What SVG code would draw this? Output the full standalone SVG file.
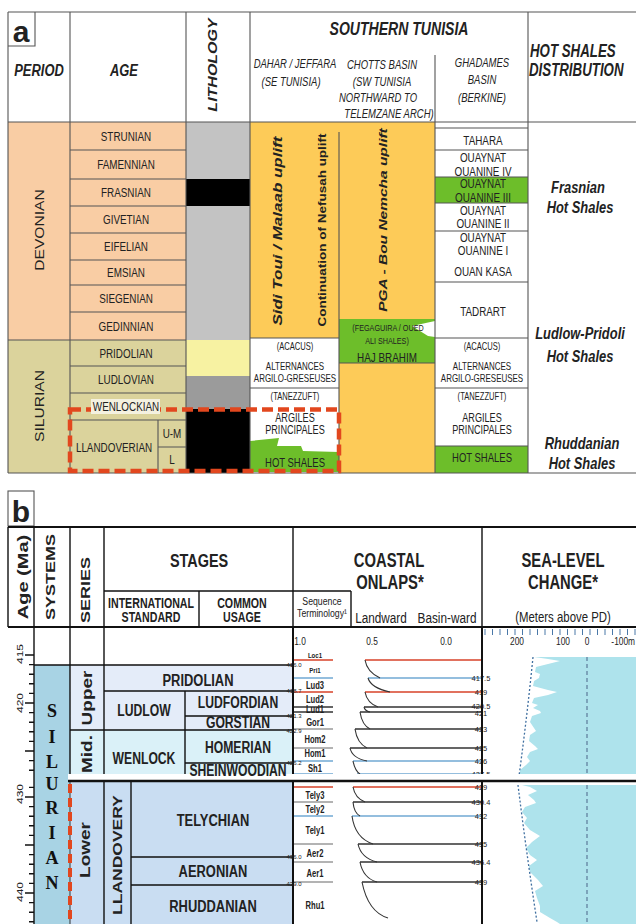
<svg xmlns="http://www.w3.org/2000/svg" width="636" height="924" viewBox="0 0 636 924">
<style>
text{font-family:"Liberation Sans",Arial,sans-serif;fill:#222;text-anchor:middle}
.b{font-weight:bold}
.i{font-style:italic}
.bi{font-weight:bold;font-style:italic}
.st{text-anchor:start}
.g{stroke:#555;stroke-width:1.1;fill:none}
.k{stroke:#111;stroke-width:1.4;fill:none}
.kk{stroke:#111;stroke-width:2;fill:none}
.dash{stroke:#E2471E;stroke-width:4.5;fill:none;stroke-dasharray:11 5}
.ser{font-family:"Liberation Serif","Times New Roman",serif;font-weight:bold;font-size:18px;fill:#111}
.red{stroke:#D8432A;stroke-width:1.6;fill:none}
.blu{stroke:#72A9D4;stroke-width:1.6;fill:none}
.drk{stroke:#333;stroke-width:1.3;fill:none}
.gry{stroke:#9a9a9a;stroke-width:1.3;fill:none}
.cv{stroke:#333;stroke-width:1.1;fill:none}
.num{font-size:7.5px;fill:#555;text-anchor:end}
.sm{font-size:6px;fill:#777;text-anchor:end}
.sc{font-size:11px;fill:#4A78A8}
.seq{font-weight:bold;fill:#333}
</style>

<g id="part-a">
 <g id="a-fills">
  <rect x="8" y="122" width="178" height="218" fill="#F9CDA4"/>
  <rect x="8" y="340" width="178" height="133" fill="#DBD39C"/>
  <rect x="186" y="122" width="64" height="57" fill="#C3C3C3"/>
  <rect x="186" y="179" width="64" height="27" fill="#000"/>
  <rect x="186" y="206" width="64" height="134" fill="#C3C3C3"/>
  <rect x="186" y="340" width="64" height="36" fill="#F7F2A2"/>
  <rect x="186" y="376" width="64" height="33" fill="#9B9B9B"/>
  <rect x="186" y="409" width="64" height="64" fill="#000"/>
  <rect x="250" y="122" width="185" height="216" fill="#FDCB58"/>
  <rect x="339" y="363" width="96" height="110" fill="#FDCB58"/>
  <rect x="339" y="319" width="96" height="44" fill="#6DBE2A"/>
  <polygon points="412,326 435,321 435,337 428,336" fill="#fff"/>
  <polygon points="250,441 279,438 277,446 301,446 303,451 339,452 339,472 250,472" fill="#6DBE2A"/>
  <rect x="435" y="177" width="93" height="26" fill="#6DBE2A"/>
  <rect x="435" y="446" width="93" height="27" fill="#6DBE2A"/>
 </g>
 <path id="a-grid" class="g" d="M8 12H636M8 12V473M8 473H636M8 122H636M8 46H35V12
  M70 12V473M186 12V473M250 12V473M528 12V473M435 55V473M339 132V473
  M70 150H186M70 179H186M70 206H186M70 233H186M70 260H186M70 285H186M70 312H186M8 340H186M70 366H186M70 393H186M70 420H186M158 420V473M158 447H186
  M435 128H528M435 150H528M435 177H528M435 203H528M435 231H528M435 282H528M435 338H528M435 388H528M435 446H528
  M250 338H339M250 388H339M339 363H435"/>
 <rect id="highlight-box" class="dash" x="70" y="409.5" width="269" height="61.5"/>
 <rect x="91" y="399" width="69" height="15" fill="#F4F1E0"/>

 <g id="a-header">
  <text class="b" font-size="30" x="21" y="42">a</text>
  <text class="bi" font-size="17" transform="translate(39 76) scale(.76 1)">PERIOD</text>
  <text class="bi" font-size="17" transform="translate(124 76) scale(.76 1)">AGE</text>
  <text class="bi" font-size="16" transform="translate(217.4 65) scale(.76 1) rotate(-90)">LITHOLOGY</text>
  <text class="bi" font-size="18.5" transform="translate(399 35) scale(.76 1)">SOUTHERN TUNISIA</text>
  <g class="i" font-size="12.5">
   <text transform="translate(295 68) scale(.76 1)">DAHAR / JEFFARA</text>
   <text transform="translate(291 86) scale(.76 1)">(SE TUNISIA)</text>
   <text transform="translate(382 69) scale(.76 1)">CHOTTS BASIN</text>
   <text transform="translate(382 86) scale(.76 1)">(SW TUNISIA</text>
   <text transform="translate(378 102) scale(.76 1)">NORTHWARD TO</text>
   <text transform="translate(389 118) scale(.76 1)">TELEMZANE ARCH)</text>
   <text transform="translate(482 67) scale(.76 1)">GHADAMES</text>
   <text transform="translate(482 84) scale(.76 1)">BASIN</text>
   <text transform="translate(482 102) scale(.76 1)">(BERKINE)</text>
  </g>
  <text class="bi st" font-size="17.5" transform="translate(530 57) scale(.76 1)">HOT SHALES</text>
  <text class="bi st" font-size="17.5" transform="translate(529 76) scale(.76 1)">DISTRIBUTION</text>
 </g>

 <g id="a-periods" font-size="15.6">
  <text transform="translate(44.3 230) scale(.76 1) rotate(-90)">DEVONIAN</text>
  <text transform="translate(44.3 406) scale(.76 1) rotate(-90)">SILURIAN</text>
 </g>
 <g id="a-ages" font-size="13">
  <text transform="translate(126 141) scale(.76 1)">STRUNIAN</text>
  <text transform="translate(126 169) scale(.76 1)">FAMENNIAN</text>
  <text transform="translate(126 197) scale(.76 1)">FRASNIAN</text>
  <text transform="translate(126 224) scale(.76 1)">GIVETIAN</text>
  <text transform="translate(126 251) scale(.76 1)">EIFELIAN</text>
  <text transform="translate(126 277) scale(.76 1)">EMSIAN</text>
  <text transform="translate(126 303) scale(.76 1)">SIEGENIAN</text>
  <text transform="translate(126 331) scale(.76 1)">GEDINNIAN</text>
  <text transform="translate(126 358) scale(.76 1)">PRIDOLIAN</text>
  <text transform="translate(126 384) scale(.76 1)">LUDLOVIAN</text>
  <text transform="translate(126 411.3) scale(.76 1)">WENLOCKIAN</text>
  <text transform="translate(114 452) scale(.76 1)">LLANDOVERIAN</text>
  <text transform="translate(172 438) scale(.76 1)">U-M</text>
  <text transform="translate(172 464) scale(.76 1)">L</text>
 </g>

 <g id="a-uplifts">
  <text class="bi" font-size="17" transform="translate(281.6 231) scale(.76 1) rotate(-90)">Sidi Toui / Malaab uplift</text>
  <text class="b" font-size="13.5" transform="translate(325.7 230) scale(.76 1) rotate(-90)">Continuation of Nefusah uplift</text>
  <text class="bi" font-size="15.5" transform="translate(387.2 220) scale(.76 1) rotate(-90)">PGA - Bou Nemcha uplift</text>
 </g>

 <g id="a-ghadames" font-size="13">
  <text transform="translate(483 144.7) scale(.76 1)">TAHARA</text>
  <text transform="translate(483 161.5) scale(.76 1)">OUAYNAT</text>
  <text transform="translate(483 175.5) scale(.76 1)">OUANINE IV</text>
  <text transform="translate(483 187.5) scale(.76 1)">OUAYNAT</text>
  <text transform="translate(483 201.5) scale(.76 1)">OUANINE III</text>
  <text transform="translate(483 214.5) scale(.76 1)">OUAYNAT</text>
  <text transform="translate(483 227.5) scale(.76 1)">OUANINE II</text>
  <text transform="translate(483 241.5) scale(.76 1)">OUAYNAT</text>
  <text transform="translate(483 254.5) scale(.76 1)">OUANINE I</text>
  <text transform="translate(483 275.5) scale(.76 1)">OUAN KASA</text>
  <text transform="translate(483 315.5) scale(.76 1)">TADRART</text>
 </g>

 <g id="a-lower-units">
  <text font-size="10" transform="translate(295 349.6) scale(.76 1)">(ACACUS)</text>
  <text font-size="10.5" transform="translate(295 369.8) scale(.76 1)">ALTERNANCES</text>
  <text font-size="10.5" transform="translate(295 381.8) scale(.76 1)">ARGILO-GRESEUSES</text>
  <text font-size="10" transform="translate(295 399.6) scale(.76 1)">(TANEZZUFT)</text>
  <text font-size="12" transform="translate(295 422.3) scale(.76 1)">ARGILES</text>
  <text font-size="12" transform="translate(295 434.3) scale(.76 1)">PRINCIPALES</text>
  <text font-size="12.5" transform="translate(295 466.5) scale(.76 1)">HOT SHALES</text>
  <text font-size="10" transform="translate(482 349.6) scale(.76 1)">(ACACUS)</text>
  <text font-size="10.5" transform="translate(482 369.8) scale(.76 1)">ALTERNANCES</text>
  <text font-size="10.5" transform="translate(482 381.8) scale(.76 1)">ARGILO-GRESEUSES</text>
  <text font-size="10" transform="translate(482 399.6) scale(.76 1)">(TANEZZUFT)</text>
  <text font-size="12" transform="translate(482 422.3) scale(.76 1)">ARGILES</text>
  <text font-size="12" transform="translate(482 434.3) scale(.76 1)">PRINCIPALES</text>
  <text font-size="12.5" transform="translate(482 461.5) scale(.76 1)">HOT SHALES</text>
  <text font-size="9.5" transform="translate(388 331.4) scale(.76 1)">(FEGAGUIRA / OUED</text>
  <text font-size="9.5" transform="translate(387 344.4) scale(.76 1)">ALI SHALES)</text>
  <text font-size="13" transform="translate(387 361.7) scale(.76 1)">HAJ BRAHIM</text>
 </g>

 <g id="a-hotshales" class="bi" font-size="17">
  <text class="bi" transform="translate(578 193) scale(.76 1)">Frasnian</text>
  <text class="bi" transform="translate(580 213) scale(.76 1)">Hot Shales</text>
  <text class="bi" transform="translate(580 339) scale(.76 1)">Ludlow-Pridoli</text>
  <text class="bi" transform="translate(580 362) scale(.76 1)">Hot Shales</text>
  <text class="bi" transform="translate(582 449) scale(.76 1)">Rhuddanian</text>
  <text class="bi" transform="translate(582 469) scale(.76 1)">Hot Shales</text>
 </g>
</g>

<g id="part-b">
 <g id="b-fills">
  <rect x="34" y="665" width="36" height="259" fill="#A8D3E4"/>
  <rect x="70" y="665" width="223" height="65" fill="#E4ECF9"/>
  <rect x="70" y="730" width="223" height="48" fill="#DAF1F8"/>
  <rect x="70" y="782" width="223" height="142" fill="#C9DDF2"/>
 </g>

 <g id="sea-level">
  <path fill="#AEE3EC" d="M636 657H534L548 659 560 661 548 664 536 667 535 672 540 674 539 678 534 681 533 686 548 690 557 692 548 695 534 698 532 703 538 705 533 708 540 711 541 713 532 716 530 722 534 728 536 731 530 735 529 741 535 746 538 749 530 752 527 757 530 761 526 765 520 770 520 776H636Z"/>
  <path fill="#AEE3EC" d="M636 785H522L530 787 537 791 528 795 534 800 536 803 525 807 522 812 527 818 524 823 530 830 540 836 532 842 526 848 530 855 537 860 529 866 530 872 538 880 543 886 535 891 537 898 540 906 540 912 550 918 557 922 560 924H636Z"/>
  <path d="M533 657Q527 717 519 776M518 785Q526 850 537 922" stroke="#3F6FA0" stroke-width="1.3" stroke-dasharray="2 2" fill="none"/>
  <path d="M587 657V776M587 785V924" stroke="#5B7A99" stroke-width="1.2" stroke-dasharray="4 3" fill="none"/>
  <path d="M485 629v6M492.5 629v6M500 629v6M507.5 629v6M515 629v6M522.5 629v6M530 629v6M537.5 629v6M545 629v6M552.5 629v6M560 629v6M567.5 629v6M575 629v6M582.5 629v6M590 629v6M597.5 629v6M605 629v6M612.5 629v6M620 629v6M627.5 629v6M635 629v6" stroke="#4A78A8" stroke-width="1"/>
  <g class="sc">
   <text transform="translate(517 645) scale(.76 1)">200</text>
   <text transform="translate(563 645) scale(.76 1)">100</text>
   <text transform="translate(587 645) scale(.76 1)">0</text>
   <text style="text-anchor:end" transform="translate(635 645) scale(.76 1)">-100m</text>
  </g>
 </g>

 <g id="onlaps">
  <g class="sc">
   <text transform="translate(300 645) scale(.76 1)">1.0</text>
   <text transform="translate(372 645) scale(.76 1)">0.5</text>
   <text transform="translate(446 645) scale(.76 1)">0.0</text>
  </g>
  <path class="red" d="M293 660H333M365 660H482M293 692H333M365 692H482M293 787H333M353 787H482"/>
  <path class="blu" d="M293 678H333M368 678H482M293 761H333M353 761H482M293 774H333M357 774H482M293 816H333M352 816H482"/>
  <path class="drk" d="M293 707H333M364 707H482M293 712H333M360 712H482M355 729H482M350 748H482M353 802H482M358 844H482M360 862H482M362 882H482"/>
  <path class="gry" d="M293 729H333M293 748H333M293 802H333M293 844H333M293 862H333M293 882H333"/>
  <path class="cv" d="M365 660Q367 672 380 678M368 678Q371 688 390 692M365 692Q367 703 378 707M364 707Q365 711 370 712M360 712Q362 725 370 729M355 729Q357 743 367 748M350 748Q352 758 367 761M353 761Q355 771 360 774M357 774Q358 777 359 778M353 787Q355 798 365 802M353 802Q354 813 360 816M352 816Q355 838 373 844M358 844Q361 858 377 862M360 862Q363 878 377 882M362 882Q368 912 388 918"/>
  <g class="num">
   <text x="481" y="681">417.5</text><text x="481" y="695">419</text><text x="481" y="708.5">420.5</text><text x="481" y="716">421</text>
   <text x="481" y="732">423</text><text x="481" y="751">425</text><text x="481" y="764">426</text><text x="481" y="777">427.5</text>
   <text x="481" y="790">429</text><text x="481" y="805">430.4</text><text x="481" y="819">432</text><text x="481" y="847">435</text>
   <text x="481" y="865">436.4</text><text x="481" y="885">439</text>
  </g>
  <g class="seq" font-size="10">
   <text font-size="8" transform="translate(315 658) scale(.76 1)">Loc1</text>
   <text font-size="8" transform="translate(315 673) scale(.76 1)">Pri1</text>
   <text transform="translate(315 688.6) scale(.76 1)">Lud3</text>
   <text transform="translate(315 702.6) scale(.76 1)">Lud2</text>
   <text transform="translate(315 712.6) scale(.76 1)">Lud1</text>
   <text transform="translate(315 725.6) scale(.76 1)">Gor1</text>
   <text transform="translate(315 742.6) scale(.76 1)">Hom2</text>
   <text transform="translate(315 756.6) scale(.76 1)">Hom1</text>
   <text transform="translate(315 771.6) scale(.76 1)">Sh1</text>
   <text transform="translate(315 798.6) scale(.76 1)">Tely3</text>
   <text transform="translate(315 812.6) scale(.76 1)">Tely2</text>
   <text transform="translate(315 833.6) scale(.76 1)">Tely1</text>
   <text transform="translate(315 857) scale(.76 1)">Aer2</text>
   <text transform="translate(315 877) scale(.76 1)">Aer1</text>
   <text transform="translate(315 908.6) scale(.76 1)">Rhu1</text>
  </g>
 </g>

 <g id="b-grid">
  <path class="k" d="M34 627V924M70 627V778M104 627V924M185 691V778M131 782V924M34 665H293M104 691H293M185 716H293M70 730H293M185 763H293M131 857H293M131 885H293"/>
  <path class="k" d="M34 655h-9M34 664.6h-5M34 674.2h-5M34 683.8h-5M34 693.4h-5M34 703h-9M34 712.6h-5M34 722.2h-5M34 731.8h-5M34 741.4h-5M34 751h-9M34 760.6h-5M34 770.2h-5M34 787.4h-5M34 797h-9M34 806.6h-5M34 816.2h-5M34 825.8h-5M34 835.4h-5M34 845h-9M34 854.6h-5M34 864.2h-5M34 873.8h-5M34 883.4h-5M34 893h-9M34 902.6h-5M34 912.2h-5M34 921.8h-5"/>
  <path class="kk" d="M293 627V924M482 627V924"/>
  <rect x="68" y="774" width="568" height="6" fill="#fff"/>
  <path d="M68 781H636" stroke="#111" stroke-width="2.5"/>
  <path d="M70 782V924" stroke="#333" stroke-width="1"/>
  <path d="M70 784V924" stroke="#E2471E" stroke-width="4" stroke-dasharray="9 5"/>
 </g>

 <g id="b-header">
  <rect class="g" x="8" y="491" width="26" height="35"/>
  <text class="b" font-size="30" x="21" y="522">b</text>
  <path class="kk" d="M8 527H636M8 627H636"/>
  <path class="k" d="M8 527V627M34 527V627M70 527V627M104 527V627M293 527V627M482 527V627M104 591H351M351 591V627M199 591V627"/>
  <text class="b" font-size="20" transform="translate(27.5 577) scale(.76 1) rotate(-90)">Age (Ma)</text>
  <text class="b" font-size="18" transform="translate(54.9 577) scale(.76 1) rotate(-90)">SYSTEMS</text>
  <text class="b" font-size="18" transform="translate(89.9 590) scale(.76 1) rotate(-90)">SERIES</text>
  <text class="b" font-size="19" transform="translate(199 566.8) scale(.76 1)">STAGES</text>
  <g class="b" font-size="14">
   <text transform="translate(151 607.5) scale(.76 1)">INTERNATIONAL</text>
   <text transform="translate(151 622) scale(.76 1)">STANDARD</text>
   <text transform="translate(242 607.5) scale(.76 1)">COMMON</text>
   <text transform="translate(242 622) scale(.76 1)">USAGE</text>
  </g>
  <g class="b" font-size="19.5">
   <text transform="translate(389 567) scale(.76 1)">COASTAL</text>
   <text transform="translate(390 589) scale(.76 1)">ONLAPS*</text>
   <text transform="translate(563 567) scale(.76 1)">SEA-LEVEL</text>
   <text transform="translate(563 589) scale(.76 1)">CHANGE*</text>
  </g>
  <text font-size="11.5" transform="translate(322 605) scale(.76 1)">Sequence</text>
  <text font-size="11.5" transform="translate(322 617) scale(.76 1)">Terminology¹</text>
  <text font-size="15.5" transform="translate(381 622.6) scale(.76 1)">Landward</text>
  <text font-size="15.5" transform="translate(447 622.6) scale(.76 1)">Basin-ward</text>
  <text font-size="15" transform="translate(563 622.4) scale(.76 1)">(Meters above PD)</text>
 </g>

 <g id="b-ages" font-size="12">
  <text transform="translate(23.3 654) scale(.76 1) rotate(-90)">415</text>
  <text transform="translate(23.3 703) scale(.76 1) rotate(-90)">420</text>
  <text transform="translate(23.3 794) scale(.76 1) rotate(-90)">430</text>
  <text transform="translate(23.3 892) scale(.76 1) rotate(-90)">440</text>
 </g>

 <g id="b-system">
  <text class="ser" x="52" y="717">S</text>
  <text class="ser" x="52" y="743">I</text>
  <text class="ser" x="52" y="768">L</text>
  <text class="ser" x="52" y="790">U</text>
  <text class="ser" x="52" y="814">R</text>
  <text class="ser" x="52" y="839">I</text>
  <text class="ser" x="52" y="864">A</text>
  <text class="ser" x="52" y="889">N</text>
 </g>

 <g id="b-series" class="b" font-size="19">
  <text transform="translate(92.2 698) scale(.76 1) rotate(-90)">Upper</text>
  <text transform="translate(92.2 754) scale(.76 1) rotate(-90)">Mid.</text>
  <text transform="translate(89.5 850) scale(.76 1) rotate(-90)">Lower</text>
  <text font-size="17.5" transform="translate(121.5 855) scale(.76 1) rotate(-90)">LLANDOVERY</text>
 </g>

 <g id="b-stages" class="b" font-size="16">
  <text font-size="17" transform="translate(198 686) scale(.76 1)">PRIDOLIAN</text>
  <text transform="translate(144 715.8) scale(.76 1)">LUDLOW</text>
  <text transform="translate(238 707.8) scale(.76 1)">LUDFORDIAN</text>
  <text transform="translate(238 727.8) scale(.76 1)">GORSTIAN</text>
  <text transform="translate(144 763.8) scale(.76 1)">WENLOCK</text>
  <text transform="translate(238 752.8) scale(.76 1)">HOMERIAN</text>
  <text transform="translate(238 775.8) scale(.76 1)">SHEINWOODIAN</text>
  <text font-size="17" transform="translate(213 826) scale(.76 1)">TELYCHIAN</text>
  <text font-size="17" transform="translate(213 877) scale(.76 1)">AERONIAN</text>
  <text font-size="17" transform="translate(213 912) scale(.76 1)">RHUDDANIAN</text>
 </g>
 <g id="b-stage-ages" class="sm">
  <text x="294" y="667">416.0</text><text x="294" y="693">418.7</text><text x="294" y="718">421.3</text>
  <text x="294" y="733">422.9</text><text x="294" y="765">426.2</text><text x="294" y="859">436.0</text><text x="294" y="886">439.0</text>
 </g>
</g>
</svg>
